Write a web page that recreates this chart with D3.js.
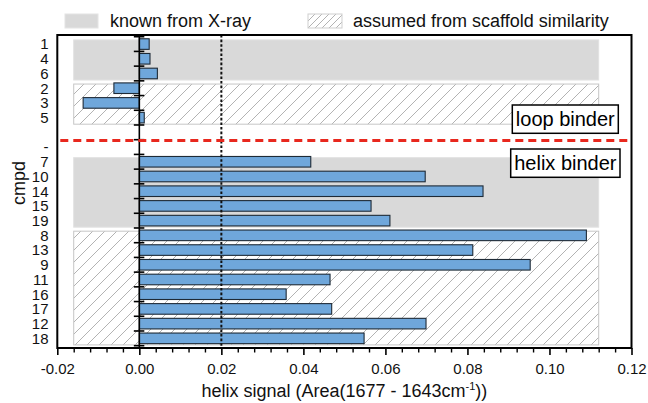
<!DOCTYPE html>
<html><head><meta charset="utf-8">
<script src="https://cdn.jsdelivr.net/npm/d3@7"></script>
<style>body{margin:0;background:#fff;} svg{display:block;font-family:"Liberation Sans",Arial,sans-serif;}</style>
</head><body><svg id="chart" width="648" height="403"></svg>
<script>
// ---- data ----
const cmpdLabels = ["1","4","6","2","3","5","","-","7","10","14","15","19","8","13","9","11","16","17","12","18"];
const helixSignal = [0.0024,0.0026,0.0044,-0.0062,-0.0137,0.0012,null,null,0.0418,0.0697,0.0838,0.0565,0.0611,0.1090,0.0813,0.0953,0.0465,0.0358,0.0469,0.0699,0.0548];
const regionKind = ["xray","assumed","xray","assumed"];
const regionFirst = [0,3,8,13];   // index into cmpdLabels
const regionLast  = [2,5,12,20];
const regionX = [-0.016, 0.112];
const xDomain = [-0.02, 0.12];
const xTicksMajor = [-0.02,0,0.02,0.04,0.06,0.08,0.10,0.12];
const xMinorStep = 0.004;
const thresholdX = 0.02;
const splitAfter = 6;            // red line between band 6 and 7
const legendLabels = ["known from X-ray","assumed from scaffold similarity"];
const bindLabels = ["loop binder","helix binder"];

// ---- layout ----
const L = 57.3, R = 631.5, T = 35, B = 348;
const svg = d3.select("#chart");
const x = d3.scaleLinear().domain(xDomain).range([L, R]);
const idx = d3.range(cmpdLabels.length);
const yBand = d3.scaleBand().domain(idx).range([36.7, 345.7]).paddingInner(0.28).paddingOuter(0.14);
const step = yBand.step();
const bandTop = i => 36.7 + i * step;

const defs = svg.append("defs");
function hatch(id, s) {
  const p = defs.append("pattern").attr("id", id).attr("patternUnits", "userSpaceOnUse")
    .attr("width", s).attr("height", s);
  p.append("rect").attr("width", s).attr("height", s).attr("fill", "#fff");
  p.append("path").attr("d", `M0,${s} L${s},0 M${-s/4},${s/4} L${s/4},${-s/4} M${s*3/4},${s*5/4} L${s*5/4},${s*3/4}`)
    .attr("stroke", "#b3b3b3").attr("stroke-width", 1);
}
hatch("hatchBig", 12);
hatch("hatchSmall", 7);

// regions
regionKind.forEach((k, i) => {
  const y0 = bandTop(regionFirst[i]) + 3.2;
  const y1 = bandTop(regionLast[i] + 1) - 0.8;
  svg.append("rect")
    .attr("x", x(regionX[0])).attr("y", y0)
    .attr("width", x(regionX[1]) - x(regionX[0])).attr("height", y1 - y0)
    .attr("fill", k === "xray" ? "#d9d9d9" : "url(#hatchBig)")
    .attr("stroke", k === "xray" ? "#e2e2e2" : "#c6c6c6").attr("stroke-width", 1);
});

// bars
svg.append("g").selectAll("rect")
  .data(idx.filter(i => helixSignal[i] !== null))
  .join("rect")
  .attr("x", i => x(Math.min(0, helixSignal[i])))
  .attr("y", i => yBand(i))
  .attr("width", i => Math.abs(x(helixSignal[i]) - x(0)))
  .attr("height", yBand.bandwidth())
  .attr("fill", "#6fa7db").attr("stroke", "#1e2a36").attr("stroke-width", 1.1);

// zero axis with ticks at band boundaries
svg.append("line").attr("x1", x(0)).attr("x2", x(0)).attr("y1", T).attr("y2", B)
  .attr("stroke", "#000").attr("stroke-width", 1.6);
svg.append("g").selectAll("line").data(d3.range(cmpdLabels.length + 1)).join("line")
  .attr("x1", x(0) - 5.5).attr("x2", x(0) + 5)
  .attr("y1", i => bandTop(i)).attr("y2", i => bandTop(i))
  .attr("stroke", "#000").attr("stroke-width", 1.6);

// threshold dotted line
svg.append("line").attr("x1", x(thresholdX)).attr("x2", x(thresholdX)).attr("y1", T).attr("y2", B)
  .attr("stroke", "#111").attr("stroke-width", 2).attr("stroke-dasharray", "2.6,2");

// red split line
const ySplit = bandTop(splitAfter + 1) + 0.8;
svg.append("line").attr("x1", L + 3).attr("x2", R).attr("y1", ySplit).attr("y2", ySplit)
  .attr("stroke", "#e8281e").attr("stroke-width", 3).attr("stroke-dasharray", "8,5");

// binder label boxes
const boxes = [{x0: 512.3, x1: 618.3, y0: 105, y1: 133.3}, {x0: 510.7, x1: 620, y0: 149, y1: 177.3}];
bindLabels.forEach((t, i) => {
  const b = boxes[i];
  svg.append("rect").attr("x", b.x0).attr("y", b.y0).attr("width", b.x1 - b.x0).attr("height", b.y1 - b.y0)
    .attr("fill", "#fff").attr("stroke", "#000").attr("stroke-width", 1.5);
  svg.append("text").attr("x", (b.x0 + b.x1) / 2).attr("y", (b.y0 + b.y1) / 2).attr("dy", "0.35em")
    .attr("text-anchor", "middle").attr("font-size", 20).attr("fill", "#000").text(t);
});

// frame
svg.append("rect").attr("x", L).attr("y", T).attr("width", R - L).attr("height", B - T)
  .attr("fill", "none").attr("stroke", "#000").attr("stroke-width", 2);

// x axis
const fmt = v => d3.format(".2f")(v).replace("\u2212", "-");
const xAxis = svg.append("g").attr("transform", `translate(0,${B})`)
  .call(d3.axisBottom(x).tickValues(xTicksMajor).tickSize(7).tickPadding(8).tickFormat(fmt));
xAxis.select(".domain").remove();
xAxis.selectAll(".tick line").attr("stroke-width", 1.6);
xAxis.selectAll(".tick text").attr("font-size", 15).attr("font-family", "Liberation Sans, Arial, sans-serif").attr("fill", "#111");
const minorVals = d3.range(0, Math.round((xDomain[1] - xDomain[0]) / xMinorStep) + 1)
  .map(k => xDomain[0] + k * xMinorStep)
  .filter(v => !xTicksMajor.some(m => Math.abs(m - v) < 1e-9));
const xMinor = svg.append("g").attr("transform", `translate(0,${B})`)
  .call(d3.axisBottom(x).tickValues(minorVals).tickSize(4.5).tickFormat(""));
xMinor.select(".domain").remove();
xMinor.selectAll(".tick line").attr("stroke-width", 1.4);

// y labels
svg.append("g").selectAll("text").data(idx).join("text")
  .attr("x", 48.5).attr("y", i => yBand(i) + yBand.bandwidth() / 2).attr("dy", "0.36em")
  .attr("text-anchor", "end").attr("font-size", 15).attr("fill", "#111")
  .text(i => cmpdLabels[i]);

// axis titles
svg.append("text").attr("transform", "translate(25,183) rotate(-90)")
  .attr("text-anchor", "middle").attr("font-size", 18).attr("fill", "#111").text("cmpd");
const xt = svg.append("text").attr("x", (L + R) / 2).attr("y", 397)
  .attr("text-anchor", "middle").attr("font-size", 18).attr("fill", "#111");
xt.append("tspan").text("helix signal (Area(1677 - 1643cm");
xt.append("tspan").attr("font-size", 11).attr("dy", -7).text("-1");
xt.append("tspan").attr("dy", 7).text("))");

// legend
svg.append("rect").attr("x", 65).attr("y", 14).attr("width", 33).attr("height", 14)
  .attr("fill", "#d9d9d9").attr("stroke", "#e4e4e4");
svg.append("text").attr("x", 110).attr("y", 27).attr("font-size", 18).attr("fill", "#111").text(legendLabels[0]);
svg.append("rect").attr("x", 308).attr("y", 14).attr("width", 34).attr("height", 14)
  .attr("fill", "url(#hatchSmall)").attr("stroke", "#cfcfcf");
svg.append("text").attr("x", 353).attr("y", 27).attr("font-size", 18).attr("fill", "#111").text(legendLabels[1]);
</script></body></html>
